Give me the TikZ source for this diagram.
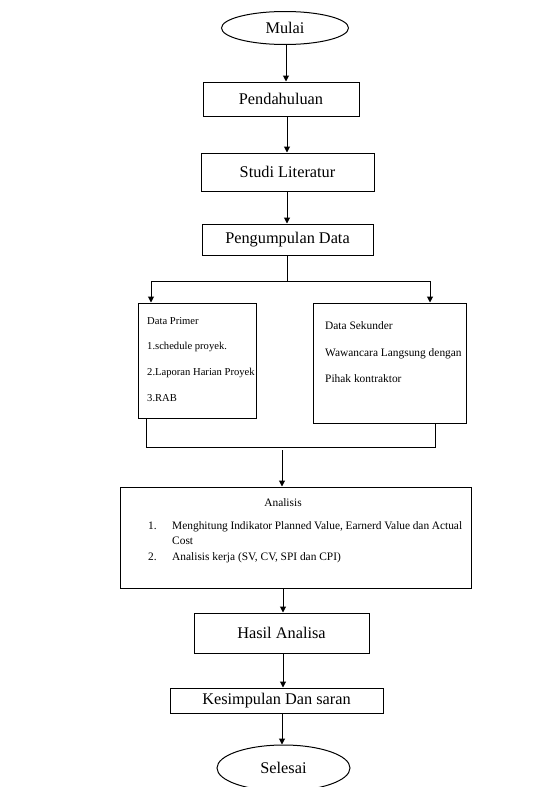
\documentclass[tikz,border=0pt]{standalone}
\usepackage{fontspec}
\setmainfont{Liberation Serif}
\usetikzlibrary{positioning}
\usetikzlibrary{arrows.meta}
\usetikzlibrary{shapes}

\begin{document}
\begin{tikzpicture}[
  x=1pt, y=-1pt,
  font=\fontsize{11.4}{13}\selectfont,
  line/.style = {line width=1pt},
  box/.style = {draw, line width=1pt, rectangle, inner sep=0pt},
  judulbox/.style = {box, font=\fontsize{16.3}{18}\selectfont},
  ujung/.style = {draw, line width=1pt, ellipse, inner sep=0pt, font=\fontsize{16.3}{18}\selectfont},
  isi/.style = {inner sep=0pt, anchor=base west},
  >={Triangle[length=6pt, width=6pt]},
]

  \useasboundingbox (0,0) rectangle (541,787);

  \node[ujung, minimum width=127pt, minimum height=33pt] (mulai) at (285,28) {Mulai};
  \node[judulbox, minimum width=156pt, minimum height=34pt] (pendahuluan) at (281,99) {Pendahuluan};
  \node[judulbox, minimum width=173pt, minimum height=38pt] (studi) at (287.5,172) {Studi Literatur};
  \node[judulbox, minimum width=171pt, minimum height=31pt] (kumpul) at (287.5,239.5) {Pengumpulan Data};

  \node[box, minimum width=118pt, minimum height=115pt] (primer) at (197,360.5) {};
  \node[isi, font=\fontsize{10.6}{12}\selectfont] (primer1) at (147,324) {Data Primer};
  \node[isi, font=\fontsize{10.6}{12}\selectfont] (primer2) at (147,349) {1.schedule proyek.};
  \node[isi, font=\fontsize{10.6}{12}\selectfont] (primer3) at (147,375) {2.Laporan Harian Proyek};
  \node[isi, font=\fontsize{10.6}{12}\selectfont] (primer4) at (147,401) {3.RAB};

  \node[box, minimum width=153pt, minimum height=120pt] (sekunder) at (389.5,363) {};
  \node[isi] (sekunder1) at (325,329) {Data Sekunder};
  \node[isi] (sekunder2) at (325,356) {Wawancara Langsung dengan};
  \node[isi] (sekunder3) at (325,382) {Pihak kontraktor};

  \node[box, minimum width=351pt, minimum height=101pt] (analisis) at (295.5,537.5) {};
  \node[inner sep=0pt, anchor=base] (judul) at (283,506) {Analisis};
  \node[isi] (no1) at (148,529) {1.};
  \node[isi] (butir1) at (172,529) {\makebox[290pt][s]{Menghitung Indikator Planned Value, Earnerd Value dan Actual}};
  \node[isi] (butir1b) at (172,544) {Cost};
  \node[isi] (no2) at (148,560) {2.};
  \node[isi] (butir2) at (172,560) {Analisis kerja (SV, CV, SPI dan CPI)};

  \node[judulbox, minimum width=175pt, minimum height=40pt] (hasil) at (281.5,633) {Hasil Analisa};
  \node[judulbox, minimum width=213pt, minimum height=25pt] (simpulan) at (276.5,700.5) {Kesimpulan Dan saran};
  \node[ujung, minimum width=133pt, minimum height=46pt] (selesai) at (283.5,768) {Selesai};

  \coordinate (cabang) at (287,281);
  \coordinate (cabangkiri) at (151,281);
  \coordinate (cabangkanan) at (430,281);
  \coordinate (gabungkiri) at (146,447);
  \coordinate (gabungkanan) at (435,447);
  \coordinate (gabung) at (282,450);

  \draw[line,->] (mulai.south -| 286,0) -- (pendahuluan.north -| 286,0);
  \draw[line,->] (pendahuluan.south -| 287,0) -- (studi.north -| 287,0);
  \draw[line,->] (studi.south -| 287,0) -- (kumpul.north -| 287,0);

  \draw[line] (kumpul.south -| cabang) -- (cabang);
  \draw[line,->] (cabang) -- (cabangkiri) -- (cabangkiri |- primer.north);
  \draw[line,->] (cabang) -- (cabangkanan) -- (cabangkanan |- sekunder.north);

  \draw[line] (primer.south -| gabungkiri) -- (gabungkiri) -- (gabungkanan) -- (sekunder.south -| gabungkanan);
  \draw[line,->] (gabung) -- (gabung |- analisis.north);

  \draw[line,->] (analisis.south -| 283,0) -- (hasil.north -| 283,0);
  \draw[line,->] (hasil.south -| 283,0) -- (simpulan.north -| 283,0);
  \draw[line,->] (simpulan.south -| 282,0) -- (selesai.north -| 282,0);

\end{tikzpicture}
\end{document}
